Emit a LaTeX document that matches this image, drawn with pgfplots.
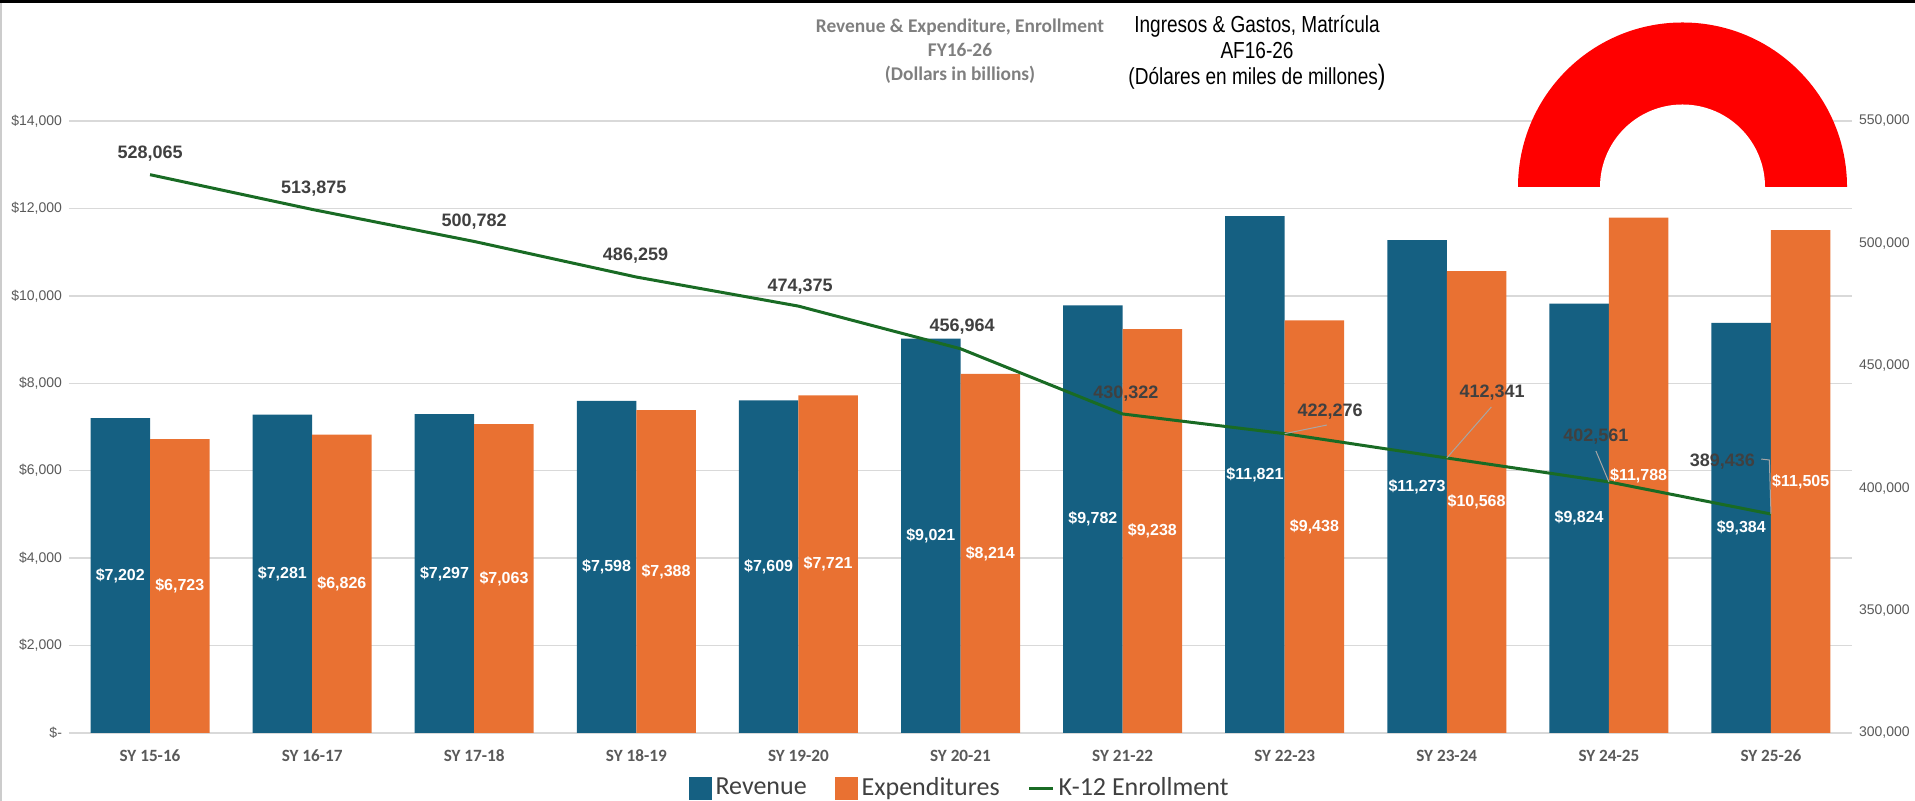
\documentclass[border=0pt]{standalone}
\usepackage{pgfplots}
\usepackage{pgfplotstable}
\pgfplotsset{compat=1.18}
\usepackage{fontspec}
\setmainfont{Carlito}
\newfontfamily\lib{Liberation Sans}
\newfontfamily\narrow[FakeStretch=0.82]{Liberation Sans}

\definecolor{revblue}{HTML}{156082}
\definecolor{expor}{HTML}{E97132}
\definecolor{enrgreen}{HTML}{196B24}
\definecolor{gridgray}{HTML}{D9D9D9}
\definecolor{ticktxt}{HTML}{595959}
\definecolor{lbltxt}{HTML}{404040}
\definecolor{titlegray}{HTML}{7F7F7F}
\definecolor{leadgray}{HTML}{A6A6A6}

% school years 15-16 ... 25-26, dollars in millions, enrollment in students
\pgfplotstableread{
x rev exp enr
0 7202 6723 528065
1 7281 6826 513875
2 7297 7063 500782
3 7598 7388 486259
4 7609 7721 474375
5 9021 8214 456964
6 9782 9238 430322
7 11821 9438 422276
8 11273 10568 412341
9 9824 11788 402561
10 9384 11505 389436
}\budget

\begin{document}
\begin{tikzpicture}
\useasboundingbox (0,0) rectangle (957.5pt,400.5pt);

% ---------------- bars, left axis ----------------
\begin{axis}[
  at={(34.5pt,34pt)}, anchor=south west,
  scale only axis, width=891.5pt, height=306pt,
  xmin=-0.5, xmax=10.5, ymin=0, ymax=14000,
  axis line style={draw=none},
  major tick length=0pt,
  scaled y ticks=false,
  /pgf/number format/assume math mode=true,
  xtick={0,...,10},
  xticklabels={SY 15-16,SY 16-17,SY 17-18,SY 18-19,SY 19-20,SY 20-21,SY 21-22,SY 22-23,SY 23-24,SY 24-25,SY 25-26},
  xticklabel style={font=\bfseries\fontsize{8.6}{10}\selectfont, text=ticktxt, yshift=-5pt},
  ytick={0,2000,...,14000},
  yticklabels={\$-,{\$2,000},{\$4,000},{\$6,000},{\$8,000},{\$10,000},{\$12,000},{\$14,000}},
  yticklabel style={font=\lib\fontsize{7}{8}\selectfont, text=ticktxt},
  ymajorgrids, grid style={gridgray, line width=0.75pt},
  legend columns=3,
  legend style={at={(0.5,-0.0899)}, anchor=center, draw=none, fill=none,
    font=\fontsize{13}{15}\selectfont, text=lbltxt,
    /tikz/every even column/.append style={column sep=12pt}},
  legend image code/.code={\fill[#1] (0pt,-5.75pt) rectangle (11.5pt,5.75pt);},
  every node near coord/.append style={anchor=center, text=white,
    font=\lib\bfseries\fontsize{8}{9}\selectfont},
  visualization depends on=rawy\as\rawy,
  nodes near coords={\$\pgfmathprintnumber[fixed,precision=0,1000 sep={,}]{\pgfplotspointmeta}},
]
\addplot[ybar, bar width=0.367, bar shift=-0.1835, fill=revblue, draw=none,
  every node near coord/.append style={shift={(axis direction cs:-0.1835,-\rawy/2)}}]
  table[x=x, y=rev] {\budget};
\addlegendentry{Revenue}
\addplot[ybar, bar width=0.367, bar shift=0.1835, fill=expor, draw=none,
  every node near coord/.append style={shift={(axis direction cs:0.1835,-\rawy/2)}}]
  table[x=x, y=exp] {\budget};
\addlegendentry{Expenditures}
\addlegendimage{legend image code/.code={\draw[enrgreen, line width=1.5pt] (0pt,0pt) -- (12pt,0pt);}}
\addlegendentry{K-12 Enrollment}
\end{axis}

% ---------------- enrollment line, right axis ----------------
\begin{axis}[
  at={(34.5pt,34pt)}, anchor=south west,
  scale only axis, width=891.5pt, height=306pt,
  xmin=-0.5, xmax=10.5, ymin=300000, ymax=550000,
  axis line style={draw=none},
  major tick length=0pt,
  axis y line*=right,
  hide x axis,
  scaled y ticks=false,
  /pgf/number format/assume math mode=true,
  ytick={300000,350000,...,550000},
  yticklabels={{300,000},{350,000},{400,000},{450,000},{500,000},{550,000}},
  yticklabel style={font=\lib\fontsize{7}{8}\selectfont, text=ticktxt},
]
\addplot[enrgreen, line width=1.5pt, mark=none] table[x=x, y=enr] {\budget};

% data labels of the line (label position, value)
\addplot[draw=none, mark=none, point meta=explicit,
  nodes near coords={\pgfmathprintnumber[fixed,precision=0,1000 sep={,}]{\pgfplotspointmeta}},
  every node near coord/.append style={anchor=center, text=lbltxt,
    font=\lib\bfseries\fontsize{9}{10}\selectfont}]
  coordinates {
  (0,536520) [528065]
  (1.01,522222) [513875]
  (2.0,508742) [500782]
  (2.995,494853) [486259]
  (4.01,482190) [474375]
  (5.01,465850) [456964]
  (6.02,438480) [430322]
  (7.28,431127) [422276]
  (8.28,438889) [412341]
  (8.92,420915) [402561]
  (9.70,410703) [389436]
  };

% leader lines
\draw[leadgray, line width=0.5pt] (axis cs:7,422276) -- (axis cs:7.26,425800);
\draw[leadgray, line width=0.5pt] (axis cs:8,412341) -- (axis cs:8.275,433170);
\draw[leadgray, line width=0.5pt] (axis cs:9,402561) -- (axis cs:8.92,415196);
\draw[leadgray, line width=0.5pt] (axis cs:10,389436) -- (axis cs:9.99,411520) -- (axis cs:9.94,411900);
\end{axis}

% titles
\node[align=center, font=\bfseries\fontsize{9.7}{12}\selectfont, text=titlegray]
  at (480pt,375pt) {Revenue \& Expenditure, Enrollment\\FY16-26\\(Dollars in billions)};
\node[align=center, font=\narrow\fontsize{11.6}{13}\selectfont, text=black]
  at (628.5pt,374pt) {Ingresos \& Gastos, Matrícula\\AF16-26\\(Dólares en miles de millones{\fontsize{14}{14}\selectfont)}};

% red half ring
\fill[red] (759pt,307pt) arc[start angle=180, end angle=0, radius=82.25pt] -- cycle;
\fill[white] (800pt,307pt) arc[start angle=180, end angle=0, radius=41.25pt] -- cycle;

% frame
\fill[black] (0pt,399pt) rectangle (957.5pt,400.5pt);
\draw[gray!40, line width=0.75pt] (0.4pt,0pt) -- (0.4pt,399pt);
\end{tikzpicture}
\end{document}
